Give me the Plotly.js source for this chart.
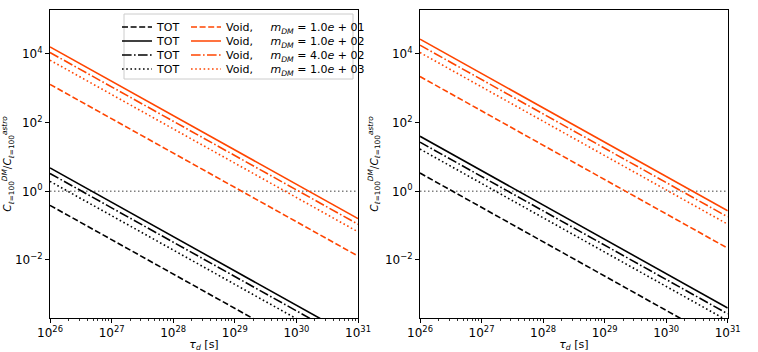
<!DOCTYPE html>
<html>
<head>
<meta charset="utf-8">
<script src="https://cdn.plot.ly/plotly-3.0.1.min.js"></script>
<style>
  html, body { margin: 0; padding: 0; background: #fff; }
  #plot { width: 758px; height: 352px; }
</style>
</head>
<body>
<div id="plot"></div>
<script>
// decay time endpoints [s]
const tau = [1e26, 1e31];

// legend labels, one per dark-matter mass
const massLabels = ['1.0<i>e</i> + 01', '1.0<i>e</i> + 02', '4.0<i>e</i> + 02', '1.0<i>e</i> + 03'];

// C_DM / C_astro at tau = 1e26 and tau = 1e31
// order: m = 10, 100, 400, 1000
const leftTot  = [[0.39, 3.9e-6], [4.8, 4.8e-5], [3.3, 3.3e-5], [1.95, 1.95e-5]];
const leftVoid = [[1.3e3, 0.013], [1.6e4, 0.16], [1.1e4, 0.11], [6.6e3, 0.066]];
const rightTot  = [[3.4, 3.4e-5], [40, 4.0e-4], [27, 2.7e-4], [17, 1.7e-4]];
const rightVoid = [[2.2e3, 0.022], [2.7e4, 0.27], [1.8e4, 0.18], [1.1e4, 0.11]];

// unity reference line
const unity = [1, 1];

const xTickVals = [1e26, 1e27, 1e28, 1e29, 1e30, 1e31];
const xTickText = ['10<sup>26</sup>', '10<sup>27</sup>', '10<sup>28</sup>', '10<sup>29</sup>', '10<sup>30</sup>', '10<sup>31</sup>'];
const yTickVals = [1e-2, 1, 1e2, 1e4];
const yTickText = ['10<sup>\u22122</sup>', '10<sup>0</sup>', '10<sup>2</sup>', '10<sup>4</sup>'];

const dashes = ['6px,2.6px', 'solid', '9.6px,2.4px,1.6px,2.4px', '1.6px,2.6px'];
const orange = '#ff4500';
const FONT = 'DejaVu Sans, sans-serif';

const W = 758, H = 352;

// one small legend per row so the rows sit as tight as matplotlib's
function legendId(n) { return n === 1 ? 'legend' : 'legend' + n; }

let traces = [];

function addSet(values, color, xa, ya, name, firstLegend) {
    values.forEach(function (v, i) {
        traces.push({
            x: tau,
            y: v,
            type: 'scatter',
            mode: 'lines',
            xaxis: xa,
            yaxis: ya,
            line: { color: color, width: 1.6, dash: dashes[i] },
            name: name(i),
            legend: firstLegend ? legendId(firstLegend + i) : 'legend',
            showlegend: !!firstLegend,
            hoverinfo: 'skip'
        });
    });
}

// gray unity lines
[['x', 'y'], ['x2', 'y2']].forEach(function (ax) {
    traces.push({
        x: tau, y: unity, type: 'scatter', mode: 'lines',
        xaxis: ax[0], yaxis: ax[1],
        line: { color: '#808080', width: 1.5, dash: '1.5px,2.5px' },
        showlegend: false, hoverinfo: 'skip'
    });
});

addSet(leftTot, 'black', 'x', 'y', () => 'TOT', 1);
addSet(leftVoid, orange, 'x', 'y',
    i => 'Void,\u00a0\u00a0\u00a0\u00a0\u00a0<i>m</i><sub><i>DM</i></sub> = ' + massLabels[i], 5);
addSet(rightTot, 'black', 'x2', 'y2', () => '', 0);
addSet(rightVoid, orange, 'x2', 'y2', () => '', 0);

const plotTop = 1 - 10 / H, plotBottom = 1 - 318 / H;

function xAxis(d0, d1, anchor) {
    return {
        type: 'log', range: [26, 31], domain: [d0 / W, d1 / W], anchor: anchor,
        tickmode: 'array', tickvals: xTickVals, ticktext: xTickText,
        ticks: 'outside', ticklen: 4, tickwidth: 1, tickcolor: 'black',
        minor: { ticks: 'outside', ticklen: 2, tickwidth: 0.8, tickcolor: 'black', dtick: 'D1', showgrid: false },
        showgrid: false, zeroline: false,
        showline: true, mirror: true, linecolor: 'black', linewidth: 1,
        tickfont: { family: FONT, size: 12, color: 'black' },
        title: { text: '<i>\u03c4</i><sub><i>d</i></sub> [s]', font: { family: FONT, size: 11, color: 'black' }, standoff: 3 }
    };
}

function yAxis(anchor) {
    return {
        type: 'log', range: [-3.69, 5.28], domain: [plotBottom, plotTop], anchor: anchor,
        tickmode: 'array', tickvals: yTickVals, ticktext: yTickText,
        ticks: 'outside', ticklen: 4, tickwidth: 1, tickcolor: 'black',
        showgrid: false, zeroline: false,
        showline: true, mirror: true, linecolor: 'black', linewidth: 1,
        tickfont: { family: FONT, size: 12, color: 'black' },
        title: {
            text: '<i>C</i><sub><i>\u2113</i>=100</sub><sup><i>DM</i></sup>/<i>C</i><sub><i>\u2113</i>=100</sub><sup><i>astro</i></sup>',
            font: { family: FONT, size: 10.5, color: 'black' }, standoff: 4
        }
    };
}

const layout = {
    width: W, height: H,
    margin: { l: 0, r: 0, t: 0, b: 0 },
    paper_bgcolor: 'white', plot_bgcolor: 'white',
    showlegend: true,
    xaxis: xAxis(50, 358, 'y'),
    yaxis: yAxis('x'),
    xaxis2: xAxis(420, 727.7, 'y2'),
    yaxis2: yAxis('x2'),
    shapes: [{
        type: 'rect', xref: 'paper', yref: 'paper', layer: 'above',
        x0: 124 / W, x1: 353 / W, y0: 1 - 79 / H, y1: 1 - 14 / H,
        line: { color: '#cccccc', width: 1 }, fillcolor: 'white'
    }]
};

// legend rows: tops in px, columns at two x positions
const rowTops = [12.5, 26.5, 40.5, 54.5];
for (let n = 1; n <= 8; n++) {
    const col = n <= 4 ? 0 : 1;
    const row = (n - 1) % 4;
    layout[legendId(n)] = {
        x: (col === 0 ? 117 : 186) / W, y: 1 - rowTops[row] / H,
        xanchor: 'left', yanchor: 'top', bgcolor: 'rgba(0,0,0,0)', borderwidth: 0,
        font: { family: FONT, size: 11, color: 'black' }
    };
}

Plotly.newPlot('plot', traces, layout, { staticPlot: true, displayModeBar: false });
</script>
</body>
</html>
